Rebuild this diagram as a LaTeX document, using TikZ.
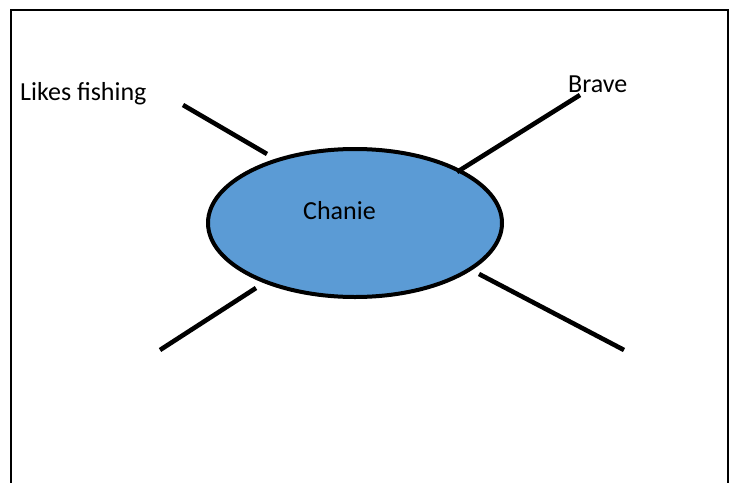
\documentclass[tikz,border=0pt]{standalone}
\usepackage{fontspec}
\setmainfont{Carlito}
\usetikzlibrary{shapes.geometric}
\definecolor{bubble}{HTML}{5B9BD5}
\tikzset{
  spoke/.style={line width=4.6pt, line cap=butt},
  lbl/.style={anchor=base west, inner sep=0pt, font=\fontsize{26pt}{30pt}\selectfont},
  hub/.style={ellipse, draw=black, line width=4pt, fill=bubble, minimum width=294pt, minimum height=148pt, inner sep=0pt}
}
\begin{document}
\begin{tikzpicture}[x=1pt,y=-1pt]
\useasboundingbox (0,0) rectangle (733,482);
\draw[line width=2.5pt] (11,10) rectangle (728,500);
\node[hub] (center) at (355,223) {};
\node[lbl] (chanie) at (303,219) {Chanie};
\node[lbl] (fish) at (20,100) {Likes fishing};
\node[lbl] (brave) at (568,92) {Brave};
\coordinate (tl1) at (183,105); \coordinate (tl2) at (267,154);
\coordinate (tr1) at (457,172); \coordinate (tr2) at (580,95);
\coordinate (bl1) at (160,350); \coordinate (bl2) at (256,288);
\coordinate (br1) at (479,274); \coordinate (br2) at (624,350);
\draw[spoke] (tl1) -- (tl2);
\draw[spoke] (tr1) -- (tr2);
\draw[spoke] (bl1) -- (bl2);
\draw[spoke] (br1) -- (br2);
\end{tikzpicture}
\end{document}
